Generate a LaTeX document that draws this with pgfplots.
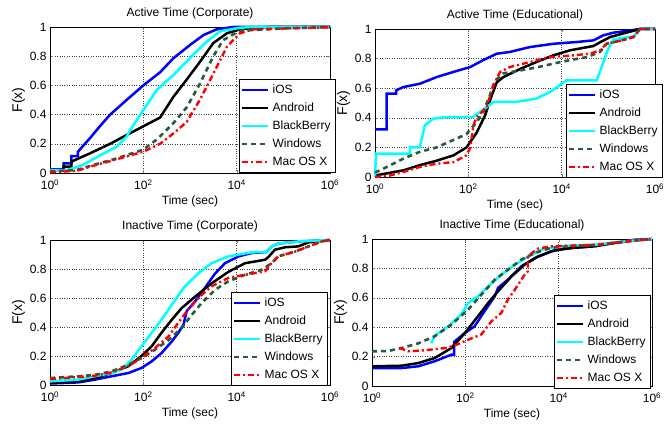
\documentclass[border=0pt]{standalone}
\usepackage{fontspec}
\setmainfont{Liberation Sans}
\usepackage{pgfplots}
\pgfplotsset{compat=1.18}

\definecolor{iosblue}{RGB}{0,0,255}
\definecolor{bbcyan}{RGB}{0,255,255}
\definecolor{macred}{RGB}{255,0,0}
\definecolor{wingreen}{RGB}{40,90,60}

\tikzset{
  iosline/.style={iosblue, line width=2.5pt},
  andline/.style={black, line width=2.5pt},
  bbline/.style={bbcyan, line width=2.5pt},
  winline/.style={wingreen, line width=2.6pt, dash pattern=on 5pt off 4pt},
  macline/.style={macred, line width=2.4pt, dash pattern=on 6pt off 3pt on 2pt off 3pt},
}

\pgfplotsset{
  legend image code/.code={\draw[#1] (0pt,0pt) -- (26pt,0pt);},
  every axis/.append style={
    scale only axis, width=280pt, height=146pt,
    xmin=1, xmax=1e6, ymin=0, ymax=1,
    xtick={1,100,10000,1000000},
    xticklabels={10\textsuperscript{0},10\textsuperscript{2},10\textsuperscript{4},10\textsuperscript{6}},
    ytick={0,0.2,0.4,0.6,0.8,1},
    yticklabels={0,0.2,0.4,0.6,0.8,1},
    tick align=inside, major tick length=3pt,
    grid=major, grid style={dotted, black!75, line width=0.5pt},
    axis line style={line width=0.8pt},
    tick label style={font=\fontsize{12}{14}\selectfont},
    xticklabel style={yshift=-3.5pt},
    label style={font=\fontsize{12}{14}\selectfont},
    title style={font=\fontsize{12}{14}\selectfont, yshift=-2pt},
    xlabel={Time (sec)}, ylabel={F(x)},
    xlabel style={yshift=1pt},
    ylabel style={yshift=-2pt, font=\fontsize{14}{16}\selectfont},
    clip=false,
    legend cell align=left,
    legend style={draw=black, line width=0.8pt, fill=white,
      font=\fontsize{12}{14}\selectfont, inner xsep=2pt, inner ysep=1.5pt,
      nodes={inner sep=3pt, text height=9pt, text depth=3pt},
      at={(1,0)}, anchor=south east},
  },
}

\begin{document}
\begin{tikzpicture}
\useasboundingbox (0pt,0pt) rectangle (672pt,426pt);

% Active, corporate
\begin{semilogxaxis}[at={(50pt,253pt)}, anchor=south west, title={Active Time (Corporate)},
  legend style={xshift=6pt}]
\addplot[iosline] coordinates {(1,0.025) (1.95,0.025) (1.95,0.066) (2.88,0.066) (2.88,0.116) (3.98,0.116) (3.98,0.146) (7.24,0.24) (11.7,0.32) (19.5,0.40) (43.7,0.5) (100,0.6) (229,0.69) (437,0.785) (1000,0.877) (1950,0.945) (3720,0.984) (8510,1) (1e6,1)};
\addplot[andline] coordinates {(1,0.02) (1.95,0.02) (1.95,0.043) (2.88,0.043) (2.88,0.078) (7.24,0.135) (19.5,0.2) (43.7,0.26) (100,0.32) (229,0.38) (288,0.43) (437,0.52) (851,0.64) (1620,0.76) (3160,0.89) (6170,0.957) (11700,0.984) (43700,1) (1e6,1)};
\addplot[bbline] coordinates {(1,0.02) (2.29,0.02) (5.13,0.055) (11.7,0.12) (26.9,0.18) (43.7,0.25) (61.7,0.33) (100,0.43) (195,0.57) (437,0.67) (1170,0.81) (2290,0.9) (4370,0.97) (11700,0.995) (22900,1) (1e6,1)};
\addplot[winline] coordinates {(1,0.01) (3.72,0.02) (8.51,0.055) (26.9,0.1) (100,0.16) (195,0.23) (437,0.34) (851,0.45) (1620,0.61) (3160,0.8) (5130,0.91) (11700,0.975) (43700,0.984) (1e5,0.99) (1e6,1)};
\addplot[macline] coordinates {(1,0.005) (3.72,0.015) (8.51,0.05) (26.9,0.094) (100,0.146) (229,0.2) (479,0.28) (851,0.35) (1620,0.5) (3160,0.68) (6170,0.865) (11700,0.957) (22900,0.984) (1e6,0.998)};
\legend{iOS,Android,BlackBerry,Windows,Mac OS X}
\end{semilogxaxis}

% Active, educational
\begin{semilogxaxis}[at={(375pt,249pt)}, anchor=south west, height=148pt, title={Active Time (Educational)},
  legend style={xshift=8pt, yshift=-1pt}]
\addplot[iosline] coordinates {(1,0.322) (1.78,0.322) (1.78,0.563) (2.82,0.563) (2.82,0.585) (4.07,0.608) (9.12,0.63) (20.9,0.675) (47.9,0.71) (110,0.743) (209,0.79) (407,0.833) (776,0.845) (2090,0.878) (6610,0.9) (20900,0.912) (47900,0.923) (77600,0.957) (1.29e5,0.975) (2.88e5,0.99) (4.79e5,1) (1e6,1)};
\addplot[andline] coordinates {(1,0.01) (4.07,0.045) (9.12,0.08) (20.9,0.11) (47.9,0.146) (91.2,0.2) (151,0.3) (229,0.417) (316,0.55) (407,0.64) (562,0.675) (1290,0.73) (2880,0.777) (6610,0.822) (15100,0.856) (47900,0.885) (66100,0.91) (1.1e5,0.946) (2.09e5,0.97) (4.79e5,1) (1e6,1)};
\addplot[bbline] coordinates {(1,0) (1.05,0.158) (5.62,0.158) (5.62,0.2) (9.12,0.2) (11.7,0.35) (17.8,0.394) (31.6,0.405) (126,0.405) (347,0.507) (1070,0.507) (2880,0.53) (5620,0.574) (12600,0.653) (56200,0.653) (1e5,0.867) (1.29e5,0.93) (3.47e5,0.95) (4.79e5,1) (1e6,1)};
\addplot[winline] coordinates {(1,0.03) (1.51,0.056) (4.07,0.124) (9.12,0.17) (20.9,0.2) (47.9,0.25) (91.2,0.29) (151,0.37) (209,0.44) (288,0.55) (372,0.65) (562,0.7) (1290,0.72) (2880,0.74) (6610,0.766) (15100,0.79) (34700,0.81) (66100,0.845) (91200,0.9) (1.78e5,0.92) (3.47e5,0.946) (4.79e5,1) (1e6,1)};
\addplot[macline] coordinates {(1,0) (2.09,0.01) (4.07,0.034) (9.12,0.068) (20.9,0.09) (47.9,0.1) (91.2,0.146) (110,0.2) (129,0.35) (151,0.405) (245,0.47) (347,0.62) (479,0.71) (776,0.743) (2090,0.777) (5620,0.81) (15100,0.82) (40700,0.833) (66100,0.856) (91200,0.9) (1.78e5,0.92) (3.47e5,0.946) (4.79e5,1) (1e6,1)};
\legend{iOS,Android,BlackBerry,Windows,Mac OS X}
\end{semilogxaxis}

% Inactive, corporate
\begin{semilogxaxis}[at={(50pt,41pt)}, anchor=south west, height=145pt, title={Inactive Time (Corporate)},
  legend style={xshift=-2pt, yshift=-1pt}]
\addplot[iosline] coordinates {(1,0.01) (4.07,0.018) (9.12,0.037) (20.9,0.06) (47.9,0.083) (91.2,0.117) (151,0.163) (245,0.22) (407,0.3) (562,0.36) (724,0.416) (851,0.51) (1290,0.577) (2090,0.67) (3470,0.77) (5620,0.84) (11000,0.887) (20900,0.91) (43700,0.917) (56200,0.956) (77600,0.975) (2.09e5,0.99) (1e6,1)};
\addplot[andline] coordinates {(1,0.014) (4.07,0.025) (9.12,0.048) (20.9,0.083) (47.9,0.13) (91.2,0.2) (151,0.267) (245,0.36) (407,0.45) (661,0.53) (1290,0.61) (2880,0.70) (6610,0.78) (15100,0.84) (40700,0.864) (47900,0.883) (66100,0.933) (1.1e5,0.95) (2.09e5,0.956) (3.47e5,0.984) (1e6,1)};
\addplot[bbline] coordinates {(1,0.025) (4.07,0.037) (9.12,0.06) (20.9,0.083) (34.7,0.106) (56.2,0.175) (91.2,0.267) (151,0.36) (245,0.45) (407,0.554) (776,0.68) (1510,0.77) (2880,0.84) (6610,0.887) (20900,0.915) (43700,0.917) (56200,0.956) (77600,0.975) (2.09e5,0.99) (1e6,1)};
\addplot[winline] coordinates {(1,0.048) (4.07,0.06) (9.12,0.07) (20.9,0.094) (47.9,0.14) (91.2,0.186) (178,0.244) (347,0.31) (661,0.393) (1100,0.485) (1780,0.566) (3470,0.657) (6610,0.715) (15100,0.76) (34700,0.795) (56200,0.84) (77600,0.887) (1.78e5,0.92) (3.47e5,0.956) (6.61e5,0.99) (1e6,1)};
\addplot[macline] coordinates {(1,0.041) (4.07,0.055) (9.12,0.064) (20.9,0.087) (47.9,0.13) (91.2,0.186) (178,0.255) (347,0.335) (562,0.43) (912,0.52) (1510,0.6) (2880,0.68) (6610,0.738) (15100,0.76) (40700,0.784) (56200,0.84) (77600,0.887) (1.78e5,0.92) (3.47e5,0.956) (6.61e5,0.99) (1e6,1)};
\legend{iOS,Android,BlackBerry,Windows,Mac OS X}
\end{semilogxaxis}

% Inactive, educational
\begin{semilogxaxis}[at={(372pt,40pt)}, anchor=south west, height=147pt, title={Inactive Time (Educational)},
  legend style={xshift=-1pt, yshift=-3pt}]
\addplot[iosline] coordinates {(1,0.122) (4.27,0.122) (9.77,0.134) (21.9,0.168) (50.1,0.213) (57.5,0.213) (57.5,0.30) (97.7,0.36) (158,0.406) (257,0.508) (427,0.61) (501,0.667) (813,0.723) (1580,0.814) (3090,0.87) (6920,0.916) (15800,0.94) (36300,0.946) (81300,0.96) (1.86e5,0.977) (4.27e5,0.995) (1e6,1)};
\addplot[andline] coordinates {(1,0.134) (4.27,0.138) (9.77,0.156) (21.9,0.19) (50.1,0.258) (97.7,0.36) (186,0.474) (309,0.565) (501,0.644) (977,0.746) (1860,0.825) (3630,0.882) (8130,0.923) (21900,0.94) (58900,0.95) (1.58e5,0.973) (4.27e5,0.99) (1e6,1)};
\addplot[bbline] coordinates {(18.6,0.29) (21.9,0.34) (42.7,0.406) (81.3,0.485) (115,0.565) (186,0.61) (309,0.678) (589,0.757) (1150,0.825) (2190,0.88) (4270,0.927) (9770,0.95) (21900,0.957) (58900,0.96) (1.58e5,0.977) (4.27e5,0.99) (1e6,1)};
\addplot[winline] coordinates {(1,0.236) (2.19,0.238) (4.27,0.258) (9.77,0.29) (21.9,0.338) (50.1,0.417) (115,0.52) (219,0.62) (427,0.723) (813,0.79) (1580,0.86) (3090,0.905) (6920,0.94) (15800,0.95) (58900,0.96) (1.58e5,0.973) (4.27e5,0.99) (1e6,1)};
\addplot[macline] coordinates {(3.89,0.26) (5.89,0.236) (13.5,0.243) (36.3,0.258) (58.9,0.275) (115,0.315) (219,0.35) (363,0.44) (589,0.497) (813,0.587) (1150,0.655) (1860,0.757) (2190,0.78) (2190,0.88) (2570,0.9) (3630,0.935) (6920,0.95) (21900,0.955) (58900,0.96) (1.58e5,0.975) (4.27e5,0.99) (1e6,1)};
\legend{iOS,Android,BlackBerry,Windows,Mac OS X}
\end{semilogxaxis}
\end{tikzpicture}
\end{document}
